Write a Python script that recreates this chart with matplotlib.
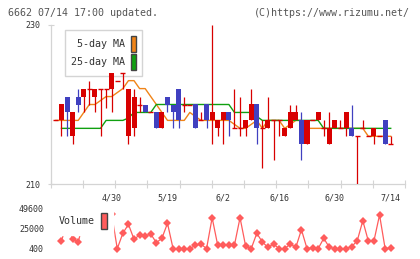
import numpy as np
import matplotlib
matplotlib.use("Agg")
import matplotlib.pyplot as plt
from matplotlib.patches import Patch

plt.rcParams['font.family'] = ['DejaVu Sans Mono']

# daily candles (oldest first), price in yen
opens  = [218, 218, 221, 216, 221, 221, 222, 221, 222, 222,
          222, 223, 224, 216, 217, 220, 220, 219, 219, 217,
          221, 220, 222, 220, 220, 220, 218, 220, 218, 217,
          218, 219, 217, 217, 217, 218, 220, 217, 217, 218,
          218, 216, 217, 218, 218, 215, 218, 218, 217, 215,
          217, 217, 217, 217, 216, 217, 216, 216, 216, 218, 215]
highs  = [218, 220, 221, 219, 222, 222, 223, 222, 222, 222,
          224, 223, 224, 222, 222, 221, 220, 219, 219, 219,
          221, 220, 222, 221, 220, 220, 219, 220, 230, 218,
          219, 219, 222, 221, 218, 222, 220, 218, 221, 218,
          218, 217, 220, 220, 219, 218, 218, 219, 218, 219,
          218, 218, 219, 220, 216, 218, 216, 217, 216, 218, 216]
lows   = [218, 216, 216, 215, 219, 219, 220, 219, 216, 219.5,
          219, 223, 222, 215, 216, 219, 219, 219, 217, 217,
          219, 217, 217, 219, 220, 217, 218, 217, 215, 216,
          215, 216, 217, 216, 216, 218, 215, 212, 217, 213,
          216, 216, 217, 218, 213, 215, 218, 218, 216, 215,
          217, 217, 216, 216, 210, 217, 216, 215, 216, 215, 215]
closes = [218, 220, 219, 219, 220, 222, 222, 222, 222, 222,
          224, 223, 224, 222, 221, 220, 219, 219, 217, 219,
          220, 219, 218, 220, 220, 217, 218, 218, 219, 218,
          219, 218, 217, 217, 218, 220, 217, 217, 218, 218,
          218, 217, 219, 219, 215, 218, 218, 219, 217, 217,
          218, 217, 219, 216, 216, 217, 216, 217, 216, 215, 215]

ma5 = [218, 218, 218, 218, 218, 219, 220, 220, 220.5, 221,
       221, 221.5, 222, 223, 223, 222, 222, 221, 220, 219,
       218, 218, 218, 218, 219, 218.5, 218, 218, 218, 218,
       218, 218, 217.5, 217, 217, 217.5, 218, 217, 218, 218,
       218, 217, 217.5, 218, 218, 217, 217, 217, 217, 217,
       217, 217, 217, 217, 217, 217, 216, 216, 216, 216, 216]
ma25 = [np.nan, 217, 217, 217, 217, 217, 217, 217, 217, 218,
        218, 218, 218, 218.3, 219, 219, 219, 219, 220, 220,
        220, 220, 220, 220, 220, 220, 220, 220, 220, 220,
        220, 220, 219, 219, 219, 219, 218.5, 218, 218, 218,
        218, 218, 218, 218, 218, 218, 218, 218, 217, 217,
        217, 217, 217, 217, 217, 217, 217, 217, 217, 217, 217]

volume = [np.nan, 9400, 32000, 12200, 7800, 36000, 30000, 34000, 30000, 36000,
          42000, 0, 18850, 29900, 11500, 16800, 15500, 18000, 7300, 12700,
          31200, 0, 0, 0, 0, 4100, 5700, 0, 38000, 4100,
          4100, 4300, 4500, 38000, 3200, 0, 18800, 8100, 1600, 5700,
          0, 0, 5700, 1600, 23300, 0, 1100, 0, 12700, 1600,
          0, 0, 0, 2400, 9700, 34300, 9000, 9700, 41400, 0, 800]

date_pos = [10, 20, 30, 40, 50, 60]
date_labels = ['4/30', '5/19', '6/2', '6/16', '6/30', '7/14']

RED = '#d80000'
BLUE = '#4040c0'
ORANGE = '#f08418'
GREEN = '#10a010'
VOLC = '#ff5c5c'
GRID = '#d4d4d4'
TXT = '#333333'

x = np.arange(len(opens))
o = np.array(opens, float)
c = np.array(closes, float)
h = np.array(highs, float)
l = np.array(lows, float)

fig = plt.figure(figsize=(4.2, 2.59), dpi=100)
ax = fig.add_axes([50.7 / 420, 1 - 184 / 259, 354.3 / 420, 159 / 259])
axv = fig.add_axes([50.7 / 420, 1 - 252 / 259, 354.3 / 420, 47 / 259])

xmin, xmax = -0.93, 62.56

# moving averages
ax.plot(x, ma5, color=ORANGE, lw=1.0, zorder=2)
ax.plot(x, ma25, color=GREEN, lw=1.0, zorder=2)

# candles
up = c > o
down = c < o
flat = c == o
cols = np.where(down, BLUE, RED)
ax.vlines(x, l, h, colors=cols, lw=0.9, zorder=3)
ax.bar(x[up], (c - o)[up], bottom=o[up], width=0.9, color=RED, zorder=4)
ax.bar(x[down], (o - c)[down], bottom=c[down], width=0.9, color=BLUE, zorder=4)
ax.hlines(o[flat], x[flat] - 0.45, x[flat] + 0.45, colors=RED, lw=1.0, zorder=4)

ax.set_xlim(xmin, xmax)
ax.set_ylim(210, 230)
ax.set_yticks([210, 230])
ax.tick_params(axis='y', direction='inout', length=4.3, width=0.8, color=GRID,
               labelsize=6, labelcolor=TXT, pad=5.5)
ax.set_xticks(date_pos)
ax.set_xticklabels(date_labels)
ax.set_xticks(np.linspace(xmin, xmax, 12), minor=True)
ax.tick_params(axis='x', which='major', length=0, labelsize=6, labelcolor=TXT, pad=7)
ax.tick_params(axis='x', which='minor', direction='inout', length=6, width=0.8, color=GRID)
for s in ['top', 'right']:
    ax.spines[s].set_visible(False)
for s in ['left', 'bottom']:
    ax.spines[s].set_color(GRID)
    ax.spines[s].set_linewidth(0.9)

leg = ax.legend(handles=[Patch(facecolor=ORANGE, edgecolor='#444444', lw=1),
                         Patch(facecolor=GREEN, edgecolor='#444444', lw=1)],
                labels=[' 5-day MA', '25-day MA'], markerfirst=False,
                loc='upper left', bbox_to_anchor=(0.040, 0.969), borderaxespad=0,
                fontsize=7.2, handlelength=0.55, handleheight=2.08,
                handletextpad=0.6, labelspacing=0.2, borderpad=0.6,
                fancybox=False, framealpha=1, edgecolor=GRID)
leg.set_zorder(1)
for t in leg.get_texts():
    t.set_color(TXT)

# volume
axv.plot(x, volume, color=VOLC, lw=0.9, marker='D', markersize=3.8,
         markeredgewidth=0, zorder=2)
axv.set_xlim(xmin, xmax)
axv.set_ylim(-4151, 53659)
axv.set_yticks([400, 25000, 49600])
axv.set_xticks([])
axv.tick_params(axis='y', length=0, labelsize=6, labelcolor=TXT, pad=4.8)
for s in axv.spines.values():
    s.set_visible(False)
axv.patch.set_alpha(0)

vleg = axv.legend(handles=[Patch(facecolor=VOLC, edgecolor='#444444', lw=1)],
                  labels=['Volume'], markerfirst=False,
                  loc='upper left', bbox_to_anchor=(0.0065, 0.957), borderaxespad=0,
                  fontsize=7.2, handlelength=0.55, handleheight=2.08,
                  handletextpad=0.6, borderpad=0.6, fancybox=False,
                  framealpha=1, edgecolor='white')
vleg.get_texts()[0].set_color(TXT)

fig.text(8 / 420, 1 - 12.7 / 259, '6662 07/14 17:00 updated.', fontsize=7.2,
         color='#555555', va='center', ha='left')
fig.text(410 / 420, 1 - 12.7 / 259, '(C)https://www.rizumu.net/', fontsize=7.2,
         color='#555555', va='center', ha='right')

fig.savefig('out.png', dpi=100)
